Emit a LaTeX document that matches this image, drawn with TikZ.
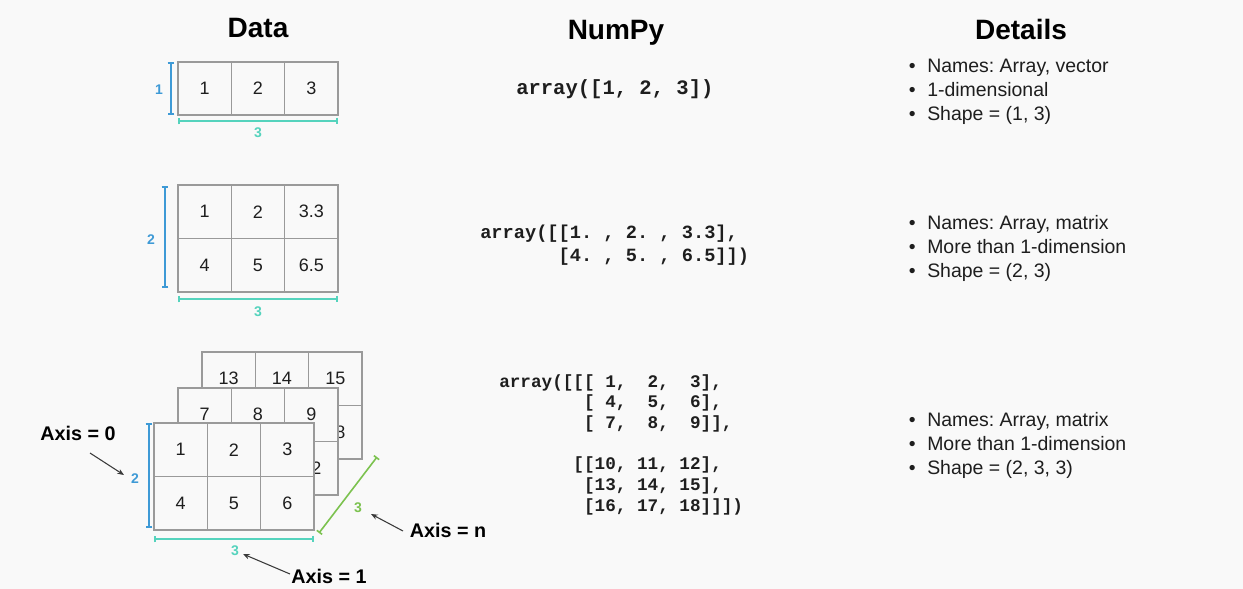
\documentclass[tikz,border=0pt]{standalone}
\usepackage{fontspec}
\setmainfont{Liberation Sans}
\setmonofont{Liberation Mono}
\usetikzlibrary{arrows.meta}
\definecolor{bg}{HTML}{F9F9F9}
\definecolor{gridc}{HTML}{9A9A9A}
\definecolor{dimblue}{HTML}{3E9AD6}
\definecolor{dimteal}{HTML}{55D3BD}
\definecolor{dimgreen}{HTML}{7CC24F}
\definecolor{txt}{HTML}{1E1E1E}
\definecolor{arrowc}{HTML}{3A3A3A}
\tikzset{
  title/.style={font=\bfseries\fontsize{21}{25}\selectfont, anchor=base, inner sep=0, text=black},
  num/.style={font=\fontsize{13.5}{16}\selectfont, text=txt, inner sep=0},
  cellbox/.style={draw=gridc, line width=0.85pt, fill=bg},
  cellline/.style={draw=gridc, line width=0.85pt},
  dimlbl/.style={font=\bfseries\fontsize{10.5}{12}\selectfont, inner sep=0},
  dimline/.style={line width=1.2pt, {Bar[width=5pt]}-{Bar[width=5pt]}},
  codeA/.style={font=\ttfamily\bfseries\fontsize{15.4}{18}\selectfont, anchor=base west, inner sep=0, text=txt},
  codeB/.style={font=\ttfamily\bfseries\fontsize{14}{17}\selectfont, anchor=base west, inner sep=0, text=txt},
  codeC/.style={font=\ttfamily\bfseries\fontsize{13.25}{16}\selectfont, anchor=base west, inner sep=0, text=txt},
  detail/.style={font=\fontsize{14.6}{17}\selectfont, anchor=base west, inner sep=0, text=txt},
  axislbl/.style={font=\bfseries\fontsize{14.8}{17}\selectfont, anchor=base, inner sep=0, text=black},
  ptr/.style={draw=arrowc, line width=0.8pt, -{Stealth[length=5pt,width=4pt]}},
}
\newcommand{\gridbox}[4]{% x, y, height, rows
  \draw[cellbox] (#1,#2) rectangle ++(160,#3);
  \draw[cellline] (#1+53.33,#2) -- ++(0,#3) (#1+106.67,#2) -- ++(0,#3);
  \ifnum#4=2 \draw[cellline] (#1,#2+#3/2) -- ++(160,0);\fi
}
\newcommand{\bul}{\llap{•\hspace{8.7pt}}}
\frenchspacing
\begin{document}
\begin{tikzpicture}[x=0.75pt,y=-0.75pt]
\fill[bg] (0,0) rectangle (1243,589);
\useasboundingbox (0,0) rectangle (1243,589);

% titles
\node[title] (tdata) at (258,37) {Data};
\node[title] (tnumpy) at (616,40) {NumPy};
\node[title] (tdetails) at (1021,40) {Details};

% ---------- array 1 ----------
\gridbox{178}{62}{53}{1}
\node[num] (a1c1) at (204.7,88.5) {1};
\node[num] (a1c2) at (258,88.5) {2};
\node[num] (a1c3) at (311.3,88.5) {3};
\coordinate (a1bt) at (171,62); \coordinate (a1bb) at (171,115);
\draw[dimline, dimblue] (a1bt) -- (a1bb);
\node[dimlbl, text=dimblue] (a1rows) at (159,90) {1};
\coordinate (a1tl) at (178,121); \coordinate (a1tr) at (338,121);
\draw[dimline, dimteal] (a1tl) -- (a1tr);
\node[dimlbl, text=dimteal] (a1cols) at (258,133) {3};

% ---------- array 2 ----------
\gridbox{178}{185}{107}{2}
\node[num] (a2c11) at (204.7,211.75) {1};
\node[num] (a2c12) at (258,211.75) {2};
\node[num] (a2c13) at (311.3,211.75) {3.3};
\node[num] (a2c21) at (204.7,265.25) {4};
\node[num] (a2c22) at (258,265.25) {5};
\node[num] (a2c23) at (311.3,265.25) {6.5};
\coordinate (a2bt) at (165,186); \coordinate (a2bb) at (165,288);
\draw[dimline, dimblue] (a2bt) -- (a2bb);
\node[dimlbl, text=dimblue] (a2rows) at (151,240) {2};
\coordinate (a2tl) at (178,299); \coordinate (a2tr) at (338,299);
\draw[dimline, dimteal] (a2tl) -- (a2tr);
\node[dimlbl, text=dimteal] (a2cols) at (258,312) {3};

% ---------- array 3 (back) ----------
\gridbox{202}{352}{107}{2}
\node[num] (bk11) at (228.7,378.75) {13};
\node[num] (bk12) at (282,378.75) {14};
\node[num] (bk13) at (335.3,378.75) {15};
\node[num] (bk21) at (228.7,432.25) {16};
\node[num] (bk22) at (282,432.25) {17};
\node[num] (bk23) at (335.3,432.25) {18};
% middle
\gridbox{178}{388}{107}{2}
\node[num] (md11) at (204.7,414.75) {7};
\node[num] (md12) at (258,414.75) {8};
\node[num] (md13) at (311.3,414.75) {9};
\node[num] (md21) at (204.7,468.25) {10};
\node[num] (md22) at (258,468.25) {11};
\node[num] (md23) at (311.3,468.25) {12};
% front
\gridbox{154}{423}{107}{2}
\node[num] (fr11) at (180.7,449.75) {1};
\node[num] (fr12) at (234,449.75) {2};
\node[num] (fr13) at (287.3,449.75) {3};
\node[num] (fr21) at (180.7,503.25) {4};
\node[num] (fr22) at (234,503.25) {5};
\node[num] (fr23) at (287.3,503.25) {6};

\coordinate (a3bt) at (149,423); \coordinate (a3bb) at (149,528);
\draw[dimline, dimblue] (a3bt) -- (a3bb);
\node[dimlbl, text=dimblue] (a3rows) at (135,479) {2};
\coordinate (a3tl) at (154,539); \coordinate (a3tr) at (314,539);
\draw[dimline, dimteal] (a3tl) -- (a3tr);
\node[dimlbl, text=dimteal] (a3cols) at (235,551) {3};
\coordinate (a3gl) at (319,533); \coordinate (a3gr) at (377,457);
\draw[dimline, dimgreen] (a3gl) -- (a3gr);
\node[dimlbl, text=dimgreen] (a3depth) at (358,508) {3};

% axis labels
\node[axislbl] (ax0) at (78,440) {Axis = 0};
\node[axislbl] (axn) at (448,537) {Axis = n};
\node[axislbl] (ax1) at (329,583) {Axis = 1};
\coordinate (ax0s) at (90,453); \coordinate (ax0e) at (124,475);
\coordinate (axns) at (403,531); \coordinate (axne) at (371,514);
\coordinate (ax1s) at (290,574); \coordinate (ax1e) at (243,554);
\draw[ptr] (ax0s) -- (ax0e);
\draw[ptr] (axns) -- (axne);
\draw[ptr] (ax1s) -- (ax1e);

% ---------- code ----------
\node[codeA] (code1) at (516,94) {array([1,~2,~3])};
\node[codeB] (code2a) at (480,238) {array([[1.~,~2.~,~3.3],};
\node[codeB] (code2b) at (480,261) {~~~~~~~[4.~,~5.~,~6.5]])};
\node[codeC] (code3a) at (499,387) {array([[[~1,~~2,~~3],};
\node[codeC] (code3b) at (499,407.7) {~~~~~~~~[~4,~~5,~~6],};
\node[codeC] (code3c) at (499,428.4) {~~~~~~~~[~7,~~8,~~9]],};
\node[codeC] (code3d) at (499,469.8) {~~~~~~~[[10,~11,~12],};
\node[codeC] (code3e) at (499,490.5) {~~~~~~~~[13,~14,~15],};
\node[codeC] (code3f) at (499,511.2) {~~~~~~~~[16,~17,~18]]])};

% ---------- details ----------
\node[detail] (d1a) at (927,72) {\bul Names: Array, vector};
\node[detail] (d1b) at (927,96) {\bul 1-dimensional};
\node[detail] (d1c) at (927,120) {\bul Shape = (1, 3)};
\node[detail] (d2a) at (927,229) {\bul Names: Array, matrix};
\node[detail] (d2b) at (927,253) {\bul More than 1-dimension};
\node[detail] (d2c) at (927,277) {\bul Shape = (2, 3)};
\node[detail] (d3a) at (927,426) {\bul Names: Array, matrix};
\node[detail] (d3b) at (927,450) {\bul More than 1-dimension};
\node[detail] (d3c) at (927,474) {\bul Shape = (2, 3, 3)};
\end{tikzpicture}
\end{document}
